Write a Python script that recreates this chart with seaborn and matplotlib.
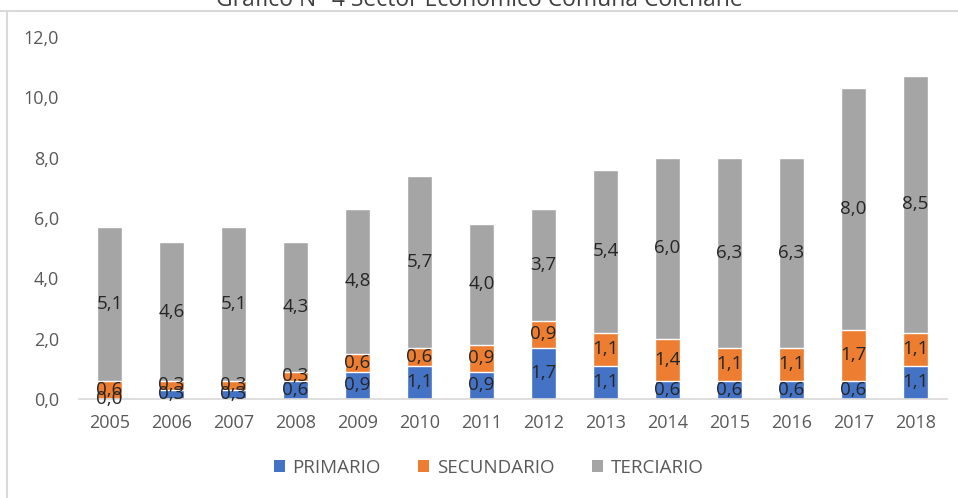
import numpy as np
import pandas as pd
import matplotlib
matplotlib.use("Agg")
import matplotlib.pyplot as plt
import matplotlib.ticker as mtick
from matplotlib.lines import Line2D
from matplotlib.patches import Patch
import seaborn as sns

# ─── Data ─────────────────────────────────────────────────────────────────────
years = ["2005", "2006", "2007", "2008", "2009", "2010", "2011",
         "2012", "2013", "2014", "2015", "2016", "2017", "2018"]
primario = [0.0, 0.3, 0.3, 0.6, 0.9, 1.1, 0.9, 1.7, 1.1, 0.6, 0.6, 0.6, 0.6, 1.1]
secundario = [0.6, 0.3, 0.3, 0.3, 0.6, 0.6, 0.9, 0.9, 1.1, 1.4, 1.1, 1.1, 1.7, 1.1]
terciario = [5.1, 4.6, 5.1, 4.3, 4.8, 5.7, 4.0, 3.7, 5.4, 6.0, 6.3, 6.3, 8.0, 8.5]
series_names = ["PRIMARIO", "SECUNDARIO", "TERCIARIO"]
colors = ["#4472C4", "#ED7D31", "#A5A5A5"]
title = "Gráfico N° 4 Sector Económico Comuna Colchane"

# ─── Style ────────────────────────────────────────────────────────────────────
sns.set_style("white")
plt.rcParams["font.family"] = ["Open Sans", "DejaVu Sans"]

df = pd.DataFrame({"year": years, "p": primario, "s": secundario, "t": terciario})
df["c1"] = df["p"]
df["c2"] = df["p"] + df["s"]
df["c3"] = df["c2"] + df["t"]

fig = plt.figure(figsize=(9.58, 4.98), dpi=100)
ax = fig.add_axes([78.5 / 958, 1 - 399 / 498, 868 / 958, 362 / 498])

# stacked bars drawn as overlapping cumulative totals
for col, color in zip(["c3", "c2", "c1"], colors[::-1]):
    sns.barplot(data=df, x="year", y=col, color=color, width=0.41,
                saturation=1, ax=ax, zorder=2)

# segment labels
fmt = lambda v: f"{v:.1f}".replace(".", ",")
for i, row in df.iterrows():
    bottoms = [0, row["c1"], row["c2"]]
    for b, v in zip(bottoms, [row["p"], row["s"], row["t"]]):
        ax.text(i, b + v / 2, fmt(v), ha="center", va="center",
                fontsize=13.5, color="#262626", zorder=3)

ax.set_ylim(0, 12)
ax.set_xlim(-0.5, len(years) - 0.5)
ax.set_yticks(np.arange(0, 12.1, 2))
ax.yaxis.set_major_formatter(mtick.FuncFormatter(lambda x, _: fmt(x)))
ax.set_xlabel("")
ax.set_ylabel("")
for side in ["top", "right", "left"]:
    ax.spines[side].set_visible(False)
ax.spines["bottom"].set_color("#D9D9D9")
ax.spines["bottom"].set_linewidth(1.2)
ax.tick_params(axis="both", length=0, labelsize=13, colors="#595959")
ax.tick_params(axis="y", pad=14)
ax.tick_params(axis="x", pad=11)

# legend
handles = [Patch(facecolor=c, edgecolor="none") for c in colors]
fig.legend(handles, series_names, loc="center", bbox_to_anchor=(0.51, 1 - 468 / 498),
           ncol=3, frameon=False, fontsize=13.5, handlelength=0.6, handleheight=0.6,
           handletextpad=0.4, columnspacing=2.0, labelcolor="#595959")

# chart frame and clipped title
fig.add_artist(Line2D([0, 1], [1 - 11 / 498] * 2, color="#D9D9D9", lw=1.5))
fig.add_artist(Line2D([7 / 958] * 2, [0, 1 - 11 / 498], color="#D9D9D9", lw=1.5))
fig.text(0.5, 1 - 6 / 498, title, ha="center", va="baseline", fontsize=16.5, color="#404040")

fig.savefig("out.png", dpi=100)
plt.close(fig)
